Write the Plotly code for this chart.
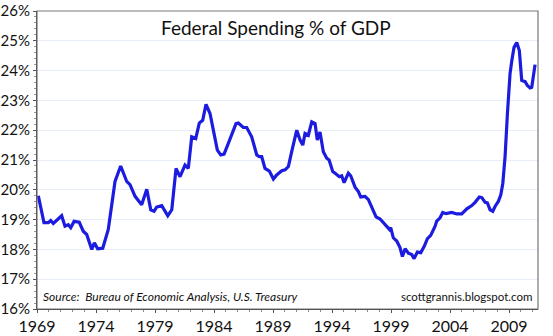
import plotly.graph_objects as go

# Decimal-year positions and Federal spending as % of GDP
years = [
    1969.11, 1969.59, 1969.96, 1970.16, 1970.38, 1971.09, 1971.37, 1971.65, 1971.86,
    1972.14, 1972.58, 1972.92, 1973.21, 1973.64, 1973.86, 1974.14, 1974.57, 1975.04,
    1975.61, 1976.09, 1976.60, 1976.88, 1977.31, 1977.87, 1978.30, 1978.64, 1978.92,
    1979.14, 1979.57, 1980.08, 1980.42, 1980.78, 1981.12, 1981.54, 1981.82, 1982.11,
    1982.45, 1982.75, 1983.04, 1983.32, 1983.66, 1984.28, 1984.57, 1984.85, 1985.21,
    1985.50, 1985.86, 1986.06, 1986.48, 1986.77, 1987.19, 1987.62, 1987.84, 1988.04,
    1988.32, 1988.69, 1989.03, 1989.31, 1989.74, 1990.02, 1990.30, 1990.58, 1991.01,
    1991.29, 1991.52, 1991.71, 1991.99, 1992.28, 1992.56, 1992.75, 1992.98, 1993.26,
    1993.55, 1993.75, 1994.06, 1994.34, 1994.62, 1994.82, 1995.02, 1995.38, 1995.58,
    1995.95, 1996.23, 1996.43, 1996.80, 1997.08, 1997.36, 1997.73, 1998.07, 1998.49,
    1998.86, 1998.97, 1999.19, 1999.48, 1999.76, 1999.96, 2000.19, 2000.47, 2000.75,
    2000.95, 2001.23, 2001.52, 2001.82, 2002.08, 2002.36, 2002.73, 2002.87, 2003.15,
    2003.38, 2003.66, 2004.14, 2004.57, 2004.99, 2005.42, 2005.84, 2006.12, 2006.48,
    2006.69, 2006.97, 2007.16, 2007.39, 2007.62, 2007.81, 2008.09, 2008.30, 2008.47,
    2008.66, 2008.86, 2009.08, 2009.23, 2009.42, 2009.65, 2009.87, 2010.07, 2010.36,
    2010.55, 2010.78, 2010.92, 2011.20,
]
spending = [
    19.80, 18.90, 18.90, 18.97, 18.87, 19.13, 18.78, 18.83, 18.73,
    18.94, 18.91, 18.61, 18.50, 18.00, 18.22, 18.02, 18.04, 18.67,
    20.28, 20.80, 20.28, 20.17, 19.78, 19.50, 20.02, 19.33, 19.28,
    19.42, 19.47, 19.13, 19.33, 20.72, 20.44, 20.83, 20.72, 21.78,
    21.72, 22.24, 22.33, 22.87, 22.56, 21.33, 21.17, 21.20, 21.56,
    21.89, 22.22, 22.24, 22.09, 22.09, 21.78, 21.17, 21.11, 21.11,
    20.72, 20.63, 20.36, 20.50, 20.64, 20.67, 20.78, 21.28, 22.00,
    21.67, 21.50, 21.89, 21.83, 22.28, 22.22, 21.67, 21.94, 21.28,
    21.06, 21.00, 20.61, 20.53, 20.44, 20.47, 20.24, 20.56, 20.47,
    20.09, 19.94, 19.76, 19.78, 19.67, 19.39, 19.09, 19.02, 18.83,
    18.67, 18.73, 18.39, 18.28, 18.06, 17.76, 18.02, 17.87, 17.83,
    17.69, 17.91, 17.89, 18.11, 18.36, 18.47, 18.78, 18.95, 19.06,
    19.24, 19.20, 19.24, 19.19, 19.19, 19.36, 19.47, 19.58, 19.76,
    19.74, 19.58, 19.56, 19.33, 19.28, 19.44, 19.61, 19.83, 20.22,
    21.11, 22.56, 23.89, 24.33, 24.78, 24.94, 24.67, 23.67, 23.63,
    23.50, 23.42, 23.44, 24.20,
]

x_ticks = [1969, 1974, 1979, 1984, 1989, 1994, 1999, 2004, 2009]
y_ticks = [16, 17, 18, 19, 20, 21, 22, 23, 24, 25, 26]

title_text = "Federal Spending % of GDP"
source_text = "Source:  Bureau of Economic Analysis, U.S. Treasury"
credit_text = "scottgrannis.blogspot.com"

FONT = "Lato"

fig = go.Figure()
fig.add_trace(go.Scatter(
    x=years, y=spending, mode="lines",
    line=dict(color="#1c1ce0", width=3.2),
    hoverinfo="skip", showlegend=False,
))

fig.update_layout(
    width=553, height=336,
    margin=dict(l=37, r=15, t=11, b=27),
    paper_bgcolor="white", plot_bgcolor="white",
    font=dict(family=FONT, color="#111111"),
    showlegend=False,
    xaxis=dict(
        range=[1969, 2011.45], automargin=False,
        tickvals=x_ticks, ticktext=[str(v) for v in x_ticks],
        showgrid=False, zeroline=False,
        showline=True, linecolor="#333333", linewidth=1,
        ticks="outside", ticklen=3, tickcolor="#555555",
        minor=dict(dtick=1, tick0=1969, ticks="outside", ticklen=2, tickcolor="#888888"),
        tickfont=dict(size=16, family=FONT, color="#111111"),
        ticklabelstandoff=0,
    ),
    yaxis=dict(
        range=[16, 26], automargin=False,
        tickvals=y_ticks, ticktext=[f"{v}%" for v in y_ticks],
        showgrid=True, gridcolor="#e6edf8", gridwidth=1.3,
        zeroline=False,
        showline=True, linecolor="#333333", linewidth=1,
        ticks="outside", ticklen=3, tickcolor="#555555",
        minor=dict(dtick=0.2, ticks="outside", ticklen=2, tickcolor="#999999", showgrid=False),
        tickfont=dict(size=15, family=FONT, color="#111111"),
        ticklabelstandoff=0,
    ),
    shapes=[dict(type="rect", xref="paper", yref="paper", x0=0, y0=0, x1=1, y1=1,
                 line=dict(color="#777777", width=1.2), layer="above")],
    annotations=[
        dict(text=title_text, xref="paper", yref="paper", x=0.477, y=0.99,
             xanchor="center", yanchor="top", showarrow=False,
             font=dict(size=19, family=FONT, color="#111111")),
        dict(text="<i>" + source_text + "</i>", xref="paper", yref="paper", x=0.008, y=0.01,
             xanchor="left", yanchor="bottom", showarrow=False,
             font=dict(size=12, family=FONT, color="#111111")),
        dict(text=credit_text, xref="paper", yref="paper", x=0.993, y=0.015,
             xanchor="right", yanchor="bottom", showarrow=False,
             font=dict(size=11.5, family=FONT, color="#111111")),
    ],
)

fig.write_html("out.html")
